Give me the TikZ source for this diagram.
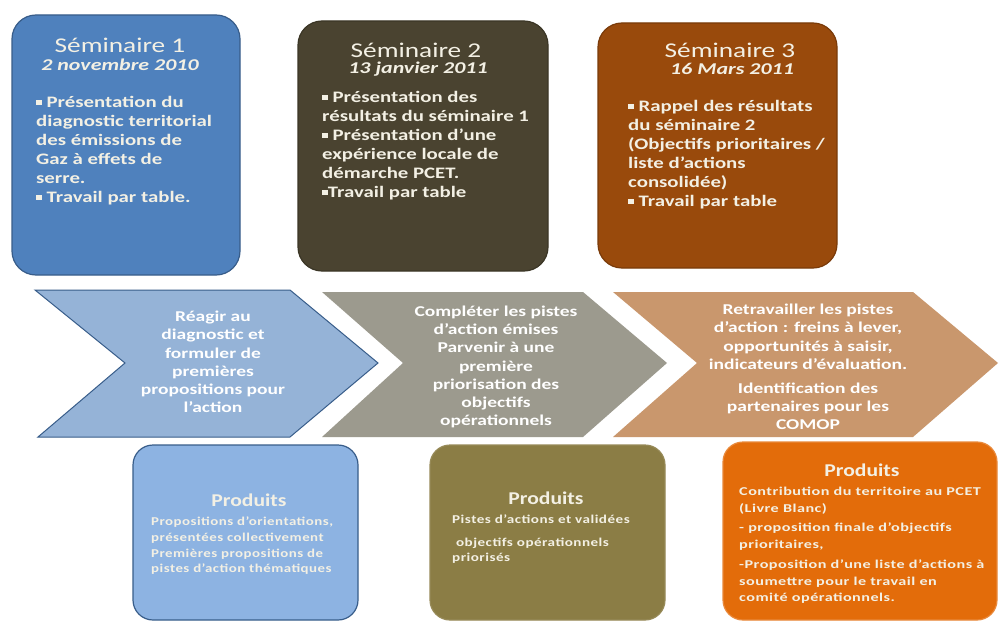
\documentclass[tikz,border=0pt]{standalone}
\usepackage{fontspec}
\setmainfont{Carlito}
\newcommand{\sqb}{\rule[0.28ex]{0.36em}{0.32em}}
\definecolor{creme}{HTML}{F3F0E4}
\definecolor{bleuA}{HTML}{4F81BD}
\definecolor{bleuB}{HTML}{385D8A}
\definecolor{bleuC}{HTML}{95B3D7}
\definecolor{bleuD}{HTML}{8DB3E2}
\definecolor{oliveA}{HTML}{4A4330}
\definecolor{oliveB}{HTML}{8B7D45}
\definecolor{brunA}{HTML}{994A0C}
\definecolor{orangeA}{HTML}{E36C0A}
\definecolor{grisA}{HTML}{9C9A8E}
\definecolor{tanA}{HTML}{C9976D}
\tikzset{
  sembox/.style={rounded corners=24pt, line width=1.2pt},
  prodbox/.style={rounded corners=20pt, line width=1.2pt},
  chevtext/.style={text=white, align=center, font=\bfseries\addfontfeature{FakeStretch=1.3}\fontsize{15}{18.2}\selectfont, inner sep=0pt},
  titletext/.style={text=creme, font=\addfontfeature{FakeStretch=1.3}\fontsize{21}{24}\selectfont, inner sep=0pt},
  datetext/.style={text=creme, font=\bfseries\itshape\addfontfeature{FakeStretch=1.33}\fontsize{16.5}{19}\selectfont, inner sep=0pt},
  bodytext/.style={text=creme, align=left, font=\bfseries\addfontfeature{FakeStretch=1.3}\fontsize{16}{19}\selectfont, inner sep=0pt, anchor=north west},
  prodtitle/.style={text=creme, font=\bfseries\addfontfeature{FakeStretch=1.2}\fontsize{18}{20}\selectfont, inner sep=0pt},
  prodbody/.style={text=creme, align=left, inner sep=0pt, anchor=north west}
}
\newcommand{\prodfont}[1]{\bfseries\addfontfeature{LetterSpace=4,FakeStretch=#1}\fontsize{12}{15.3}\selectfont}
\begin{document}
\begin{tikzpicture}[x=1pt,y=-1pt]
\useasboundingbox[fill=white] (0,0) rectangle (1000,628);

% seminar boxes
\draw[sembox, fill=bleuA, draw=bleuB] (12,15) rectangle (240,275);
\node[titletext] (t1) at (120,45) {Séminaire 1};
\node[datetext] (d1) at (120,65) {2 novembre 2010};
\node[bodytext] (b1) at (36,96) {\sqb{} Présentation du\\diagnostic territorial\\des émissions de\\Gaz à effets de\\serre.\\\sqb{} Travail par table.};

\draw[sembox, fill=oliveA, draw=oliveA!80!black] (298,21) rectangle (548,271);
\node[titletext] (t2) at (416,50) {Séminaire 2};
\node[datetext] (d2) at (418,69) {13 janvier 2011};
\node[bodytext] (b2) at (322,91) {\sqb{} Présentation des\\résultats du séminaire 1\\\sqb{} Présentation d’une\\expérience locale de\\démarche PCET.\\\sqb Travail par table};

\draw[sembox, fill=brunA, draw=brunA!80!black] (598,23) rectangle (837,268);
\node[titletext] (t3) at (730,50) {Séminaire 3};
\node[datetext] (d3) at (732,69) {16 Mars 2011};
\node[bodytext] (b3) at (628,100) {\sqb{} Rappel des résultats\\du séminaire 2\\(Objectifs prioritaires /\\liste d’actions\\consolidée)\\\sqb{} Travail par table};

% process chevrons
\draw[fill=bleuC, draw=bleuB, line width=1pt] (35,290) -- (290,290) -- (378,363) -- (290,437) -- (38,437) -- (125,363) -- cycle;
\node[chevtext] (c1) at (213,362) {Réagir au\\diagnostic et\\formuler de\\premières\\propositions pour\\l’action};

\fill[grisA] (322,292) -- (583,292) -- (667,363) -- (583,437) -- (322,437) -- (403,363) -- cycle;
\node[chevtext] (c2) at (496,367) {Compléter les pistes\\d’action émises\\Parvenir à une\\première\\priorisation des\\objectifs\\opérationnels};

\fill[tanA] (613,292) -- (913,292) -- (998,363) -- (913,437) -- (613,437) -- (697,363) -- cycle;
\node[chevtext, anchor=north] (c3) at (808,304) {Retravailler les pistes\\d’action : freins à lever,\\opportunités à saisir,\\indicateurs d’évaluation.\\[6pt]Identification des\\partenaires pour les\\COMOP};

% product boxes
\draw[prodbox, fill=bleuD, draw=bleuB] (133,445) rectangle (358,620);
\node[prodtitle] (p1) at (249,500) {Produits};
\node[prodbody, font=\prodfont{1.24}] (q1) at (151,517) {Propositions d’orientations,\\présentées collectivement\\[1pt]Premières propositions de\\pistes d’action thématiques};

\draw[prodbox, fill=oliveB, draw=oliveB!90!white] (430,445) rectangle (665,620);
\node[prodtitle] (p2) at (546,498) {Produits};
\node[prodbody, font=\prodfont{1.26}] (q2) at (452,515) {Pistes d’actions et validées\\[7pt]\ objectifs opérationnels\\priorisés};

\draw[prodbox, fill=orangeA, draw=orangeA!80!white] (723,442) rectangle (997,620);
\node[prodtitle] (p3) at (862,470) {Produits};
\node[prodbody, font=\prodfont{1.35}\fontsize{12}{16.5}\selectfont] (q3) at (739,487) {Contribution du territoire au PCET\\(Livre Blanc)\\[3pt]- proposition finale d’objectifs\\prioritaires,\\[4pt]-Proposition d’une liste d’actions à\\soumettre\ pour le travail en\\comité opérationnels.};
\end{tikzpicture}
\end{document}
